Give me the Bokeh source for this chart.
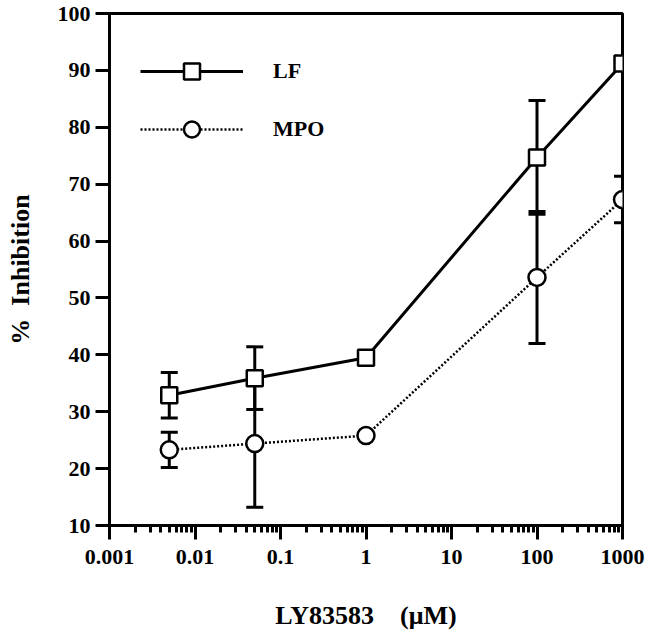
from bokeh.plotting import figure
from bokeh.models import (ColumnDataSource, Whisker, LogTicker, FixedTicker, CustomJSTickFormatter,
                          Legend, LegendItem, TeeHead, Range1d)
from bokeh.embed import file_html
from bokeh.resources import INLINE

# ---- data ----
conc = [0.005, 0.05, 1, 100, 1000]          # LY83583 concentration (uM)
lf_mean = [32.9, 35.9, 39.5, 74.7, 91.2]     # % inhibition, LF
lf_sd = [4.0, 5.5, 0.0, 10.0, 0.0]
mpo_mean = [23.3, 24.4, 25.8, 53.6, 67.3]    # % inhibition, MPO
mpo_sd = [3.1, 11.2, 0.0, 11.6, 4.1]
y_ticks = [10, 20, 30, 40, 50, 60, 70, 80, 90, 100]

FONT = "Liberation Serif"
NB = "\u00a0"

p = figure(width=659, height=633, x_axis_type="log",
           x_range=Range1d(0.001, 1000), y_range=Range1d(10, 100),
           output_backend="svg", toolbar_location=None,
           min_border_left=109, min_border_right=37, min_border_top=13, min_border_bottom=108)

p.grid.visible = False
p.outline_line_color = "black"
p.outline_line_width = 3
p.background_fill_color = "white"
p.border_fill_color = "white"

p.xaxis.ticker = LogTicker(desired_num_ticks=7, num_minor_ticks=10)
p.xaxis.formatter = CustomJSTickFormatter(code="""
    if (tick >= 1) { return tick.toFixed(0); }
    return String(parseFloat(tick.toPrecision(3)));
""")
p.yaxis.ticker = FixedTicker(ticks=y_ticks, minor_ticks=[])

for ax in (p.xaxis[0], p.yaxis[0]):
    ax.axis_line_width = 3
    ax.major_tick_line_width = 3
    ax.minor_tick_line_width = 3
    ax.major_tick_out = 14
    ax.major_tick_in = 0
    ax.minor_tick_in = 0
    ax.major_label_text_font = FONT
    ax.major_label_text_font_style = "bold"
    ax.major_label_text_font_size = "22px"
    ax.major_label_text_color = "black"
    ax.axis_label_text_font = FONT
    ax.axis_label_text_font_style = "bold"
    ax.axis_label_text_font_size = "26px"
    ax.axis_label_text_color = "black"

p.xaxis.minor_tick_out = 7
p.xaxis.major_label_standoff = 10
p.xaxis.axis_label = "LY83583" + NB * 4 + "(\u03bcM)"
p.xaxis.axis_label_standoff = 34
p.yaxis.minor_tick_out = 0
p.yaxis.major_label_standoff = 5
p.yaxis.axis_label = "%" + NB * 2 + "Inhibition"
p.yaxis.axis_label_standoff = 20

# ---- error bars ----
def whisker_source(means, sds):
    xs, lo, hi = [], [], []
    for x, m, s in zip(conc, means, sds):
        if s > 0:
            xs.append(x); lo.append(m - s); hi.append(m + s)
    return ColumnDataSource(dict(x=xs, lower=lo, upper=hi))

for means, sds in ((lf_mean, lf_sd), (mpo_mean, mpo_sd)):
    w = Whisker(source=whisker_source(means, sds), base="x", lower="lower", upper="upper",
                dimension="height", line_color="black", line_width=3,
                upper_head=TeeHead(size=17, line_width=3, line_color="black"),
                lower_head=TeeHead(size=17, line_width=3, line_color="black"))
    p.add_layout(w)

# ---- series ----
lf_src = ColumnDataSource(dict(x=conc, y=lf_mean))
mpo_src = ColumnDataSource(dict(x=conc, y=mpo_mean))

lf_line = p.line("x", "y", source=lf_src, line_color="black", line_width=3)
mpo_line = p.line("x", "y", source=mpo_src, line_color="black", line_width=2.5, line_dash="2 2")
lf_pts = p.scatter("x", "y", source=lf_src, marker="square", size=16,
                   fill_color="white", line_color="black", line_width=2.5)
mpo_pts = p.scatter("x", "y", source=mpo_src, marker="circle", size=17,
                    fill_color="white", line_color="black", line_width=2.5)

legend = Legend(items=[LegendItem(label="LF", renderers=[lf_line, lf_pts]),
                       LegendItem(label="MPO", renderers=[mpo_line, mpo_pts])],
                location=(31, 376), orientation="vertical",
                glyph_width=103, glyph_height=40, label_height=40, spacing=18,
                padding=0, margin=0, label_standoff=30,
                border_line_color=None, background_fill_alpha=0,
                label_text_font=FONT, label_text_font_style="bold",
                label_text_font_size="22px", label_text_color="black")
p.add_layout(legend)

open("out.html", "w").write(file_html(p, INLINE))
